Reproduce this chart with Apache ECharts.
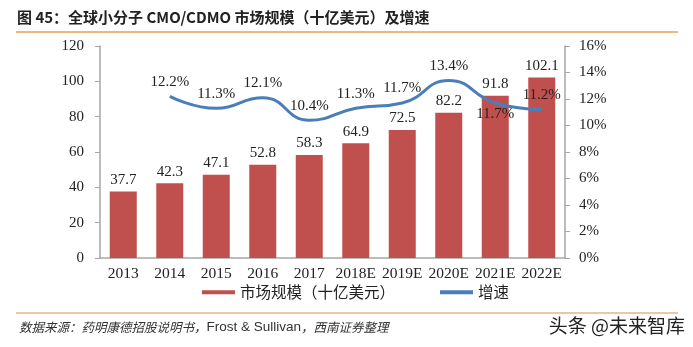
<!DOCTYPE html>
<html>
<head>
<meta charset="utf-8">
<script src="https://cdn.jsdelivr.net/npm/echarts@6/dist/echarts.min.js"></script>
<style>
  html, body { margin: 0; padding: 0; background: #fff; }
  #chart { width: 693px; height: 347px; }
</style>
</head>
<body>
<div id="chart"></div>
<script>
// Categories and values
const years = ['2013', '2014', '2015', '2016', '2017', '2018E', '2019E', '2020E', '2021E', '2022E'];
const marketSize = [37.7, 42.3, 47.1, 52.8, 58.3, 64.9, 72.5, 82.2, 91.8, 102.1];
const growth = [null, 12.2, 11.3, 12.1, 10.4, 11.3, 11.7, 13.4, 11.7, 11.2];
const leftTicks = [0, 20, 40, 60, 80, 100, 120];
const rightTicks = [0, 2, 4, 6, 8, 10, 12, 14, 16];

const serif = '"Liberation Serif", "Times New Roman", serif';
const cjk = '"Noto Sans CJK SC", sans-serif';
const sans = '"Liberation Sans", Arial, sans-serif';

const chart = echarts.init(document.getElementById('chart'));
chart.setOption({
  animation: false,
  grid: { left: 100, right: 128, top: 46, bottom: 89 },
  graphic: [
    {
      type: 'text', left: 17, top: 10,
      style: { text: '图 45：全球小分子 CMO/CDMO 市场规模（十亿美元）及增速', font: 'bold 15px ' + cjk, fill: '#222' }
    },
    {
      type: 'line', shape: { x1: 16, y1: 32, x2: 678, y2: 32 },
      style: { stroke: '#E0A552', lineWidth: 1.5 }
    },
    {
      type: 'line', shape: { x1: 16, y1: 313, x2: 678, y2: 313 },
      style: { stroke: '#E0B883', lineWidth: 1.5 }
    },
    {
      type: 'text', left: 19, top: 320,
      style: {
        text: '{c|数据来源：药明康德招股说明书，}{l|Frost & Sullivan}{c|，西南证券整理}',
        rich: {
          c: { font: 'italic 12.5px ' + cjk, fill: '#333' },
          l: { font: '13.5px ' + sans, fill: '#333' }
        }
      }
    },
    {
      type: 'text', right: 8, top: 316,
      style: { text: '头条 @未来智库', font: '19px ' + cjk, fill: '#222' }
    }
  ],
  legend: {
    bottom: 42,
    left: 197,
    itemGap: 45,
    itemWidth: 33,
    itemHeight: 4,
    textStyle: { fontFamily: cjk, fontSize: 15.5, color: '#222' },
    data: [
      { name: '市场规模（十亿美元）', icon: 'rect' },
      { name: '增速', icon: 'rect', itemStyle: { color: '#4A7EBB' } }
    ]
  },
  xAxis: {
    type: 'category',
    data: years,
    axisLine: { lineStyle: { color: '#A6A6A6', width: 1.5 } },
    axisTick: { show: false },
    axisLabel: { fontFamily: serif, fontSize: 15.5, color: '#222', margin: 8, interval: 0 }
  },
  yAxis: [
    {
      type: 'value', min: 0, max: 120, interval: 20,
      splitLine: { show: false },
      axisLine: { show: true, lineStyle: { color: '#A6A6A6', width: 1.5 } },
      axisTick: { show: true, length: 5, lineStyle: { color: '#A6A6A6' } },
      axisLabel: { fontFamily: serif, fontSize: 15, color: '#222', margin: 16 }
    },
    {
      type: 'value', min: 0, max: 16, interval: 2,
      splitLine: { show: false },
      axisLine: { show: true, lineStyle: { color: '#A6A6A6', width: 1.5 } },
      axisTick: { show: true, length: 5, lineStyle: { color: '#A6A6A6' } },
      axisLabel: { fontFamily: serif, fontSize: 15, color: '#222', margin: 14, formatter: '{value}%' }
    }
  ],
  series: [
    {
      name: '市场规模（十亿美元）',
      type: 'bar',
      data: marketSize,
      barWidth: 27,
      itemStyle: { color: '#C0504D' },
      label: { show: true, position: 'top', distance: 4, fontFamily: serif, fontSize: 15, color: '#222' }
    },
    {
      name: '增速',
      type: 'line',
      yAxisIndex: 1,
      data: growth.map((v, i) => {
        if (v === null) return null;
        if (i === 8) return { value: v, label: { position: 'bottom', distance: 4 } };
        return v;
      }),
      smooth: true,
      symbol: 'circle',
      symbolSize: 0.01,
      showSymbol: true,
      lineStyle: { color: '#4A7EBB', width: 3 },
      itemStyle: { color: '#4A7EBB' },
      label: {
        show: true, position: 'top', distance: 7,
        fontFamily: serif, fontSize: 15, color: '#222',
        formatter: p => p.value + '%'
      },
      z: 3
    }
  ]
});
</script>
</body>
</html>
